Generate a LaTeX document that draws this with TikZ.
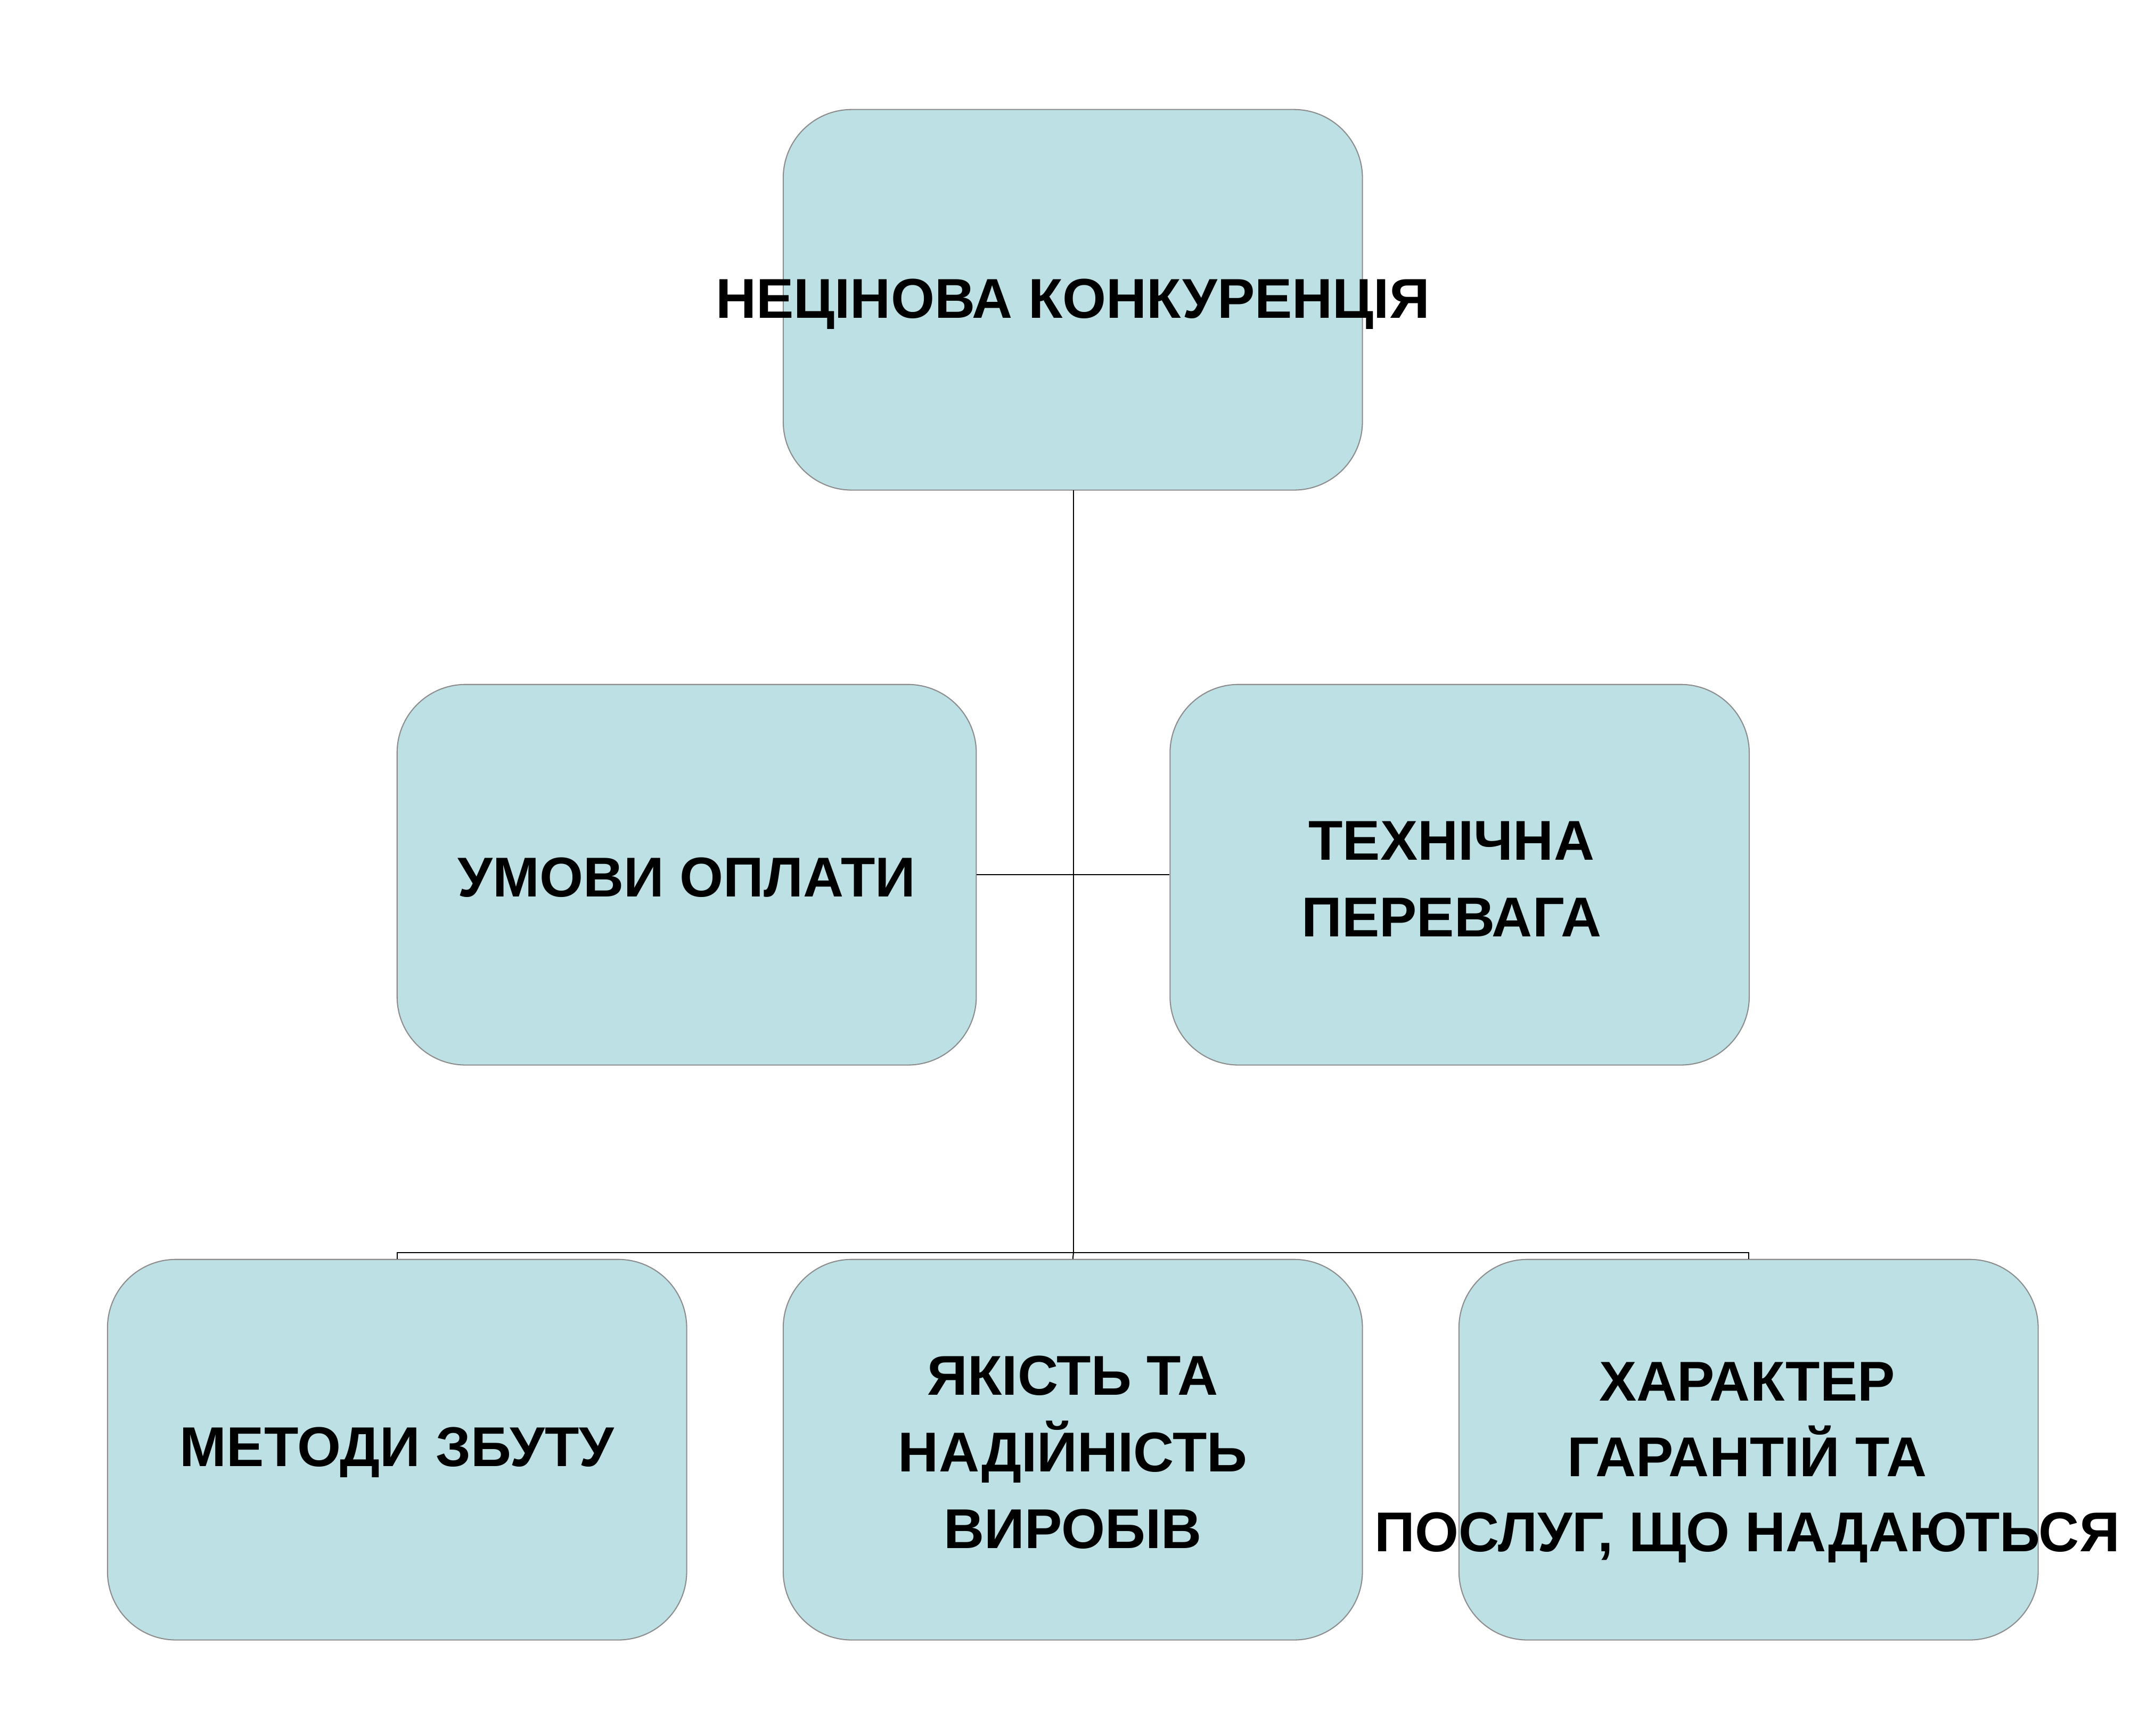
\documentclass[tikz,border=0pt]{standalone}
\usepackage{fontspec}
\setmainfont{Liberation Sans}
\definecolor{boxfill}{HTML}{BDE0E5}
\definecolor{boxline}{HTML}{8C8C8C}
\begin{document}
\begin{tikzpicture}[x=1pt,y=-1pt,
  cbox/.style={draw=boxline,line width=0.8pt,fill=boxfill,rounded corners=50pt,minimum width=423pt,minimum height=278pt,inner sep=0pt},
  lbl/.style={font=\fontsize{41}{56}\selectfont\bfseries,align=center,inner sep=0pt},
  conn/.style={draw=black,line width=0.8pt}]
\useasboundingbox (0,0) rectangle (1568,1268);
\clip (0,0) rectangle (1568,1268);
\node[cbox] (top) at (783.5,219) {};
\node[cbox] (ml) at (501.5,639) {};
\node[cbox] (mr) at (1066,639) {};
\node[cbox] (b1) at (290,1059) {};
\node[cbox] (b2) at (783.5,1059) {};
\node[cbox] (b3) at (1277,1059) {};
\coordinate (bus) at (784,915);
\coordinate (busl) at (290,915);
\coordinate (busr) at (1277,915);
\draw[conn] (784,358) -- (bus);
\draw[conn] (ml.east) -- (mr.west);
\draw[conn] (b1.north) -- (busl) -- (busr) -- (b3.north);
\draw[conn] (bus) -- (b2.north);
\node[lbl] at (783.5,222) {НЕЦІНОВА КОНКУРЕНЦІЯ};
\node[lbl] at (501.5,641) {УМОВИ ОПЛАТИ};
\node[lbl] at (1060,642) {ТЕХНІЧНА\\ПЕРЕВАГА};
\node[lbl] at (290,1061) {МЕТОДИ ЗБУТУ};
\node[lbl] at (783.5,1061) {ЯКІСТЬ ТА\\НАДІЙНІСТЬ\\ВИРОБІВ};
\node[lbl,anchor=west] at (965,1061) {\begin{tabular}{@{}c@{}}\hphantom{ПОСЛУГ, ЩО НАДАЮТЬСЯ}\\[-56pt]\end{tabular}};
\node[lbl,anchor=north] (t3) at (1276,984) {\begin{tabular}{@{}c@{}}ХАРАКТЕР\\[-1pt]ГАРАНТІЙ ТА\\[-1pt]ПОСЛУГ, ЩО НАДАЮТЬСЯ\end{tabular}};
\end{tikzpicture}
\end{document}
